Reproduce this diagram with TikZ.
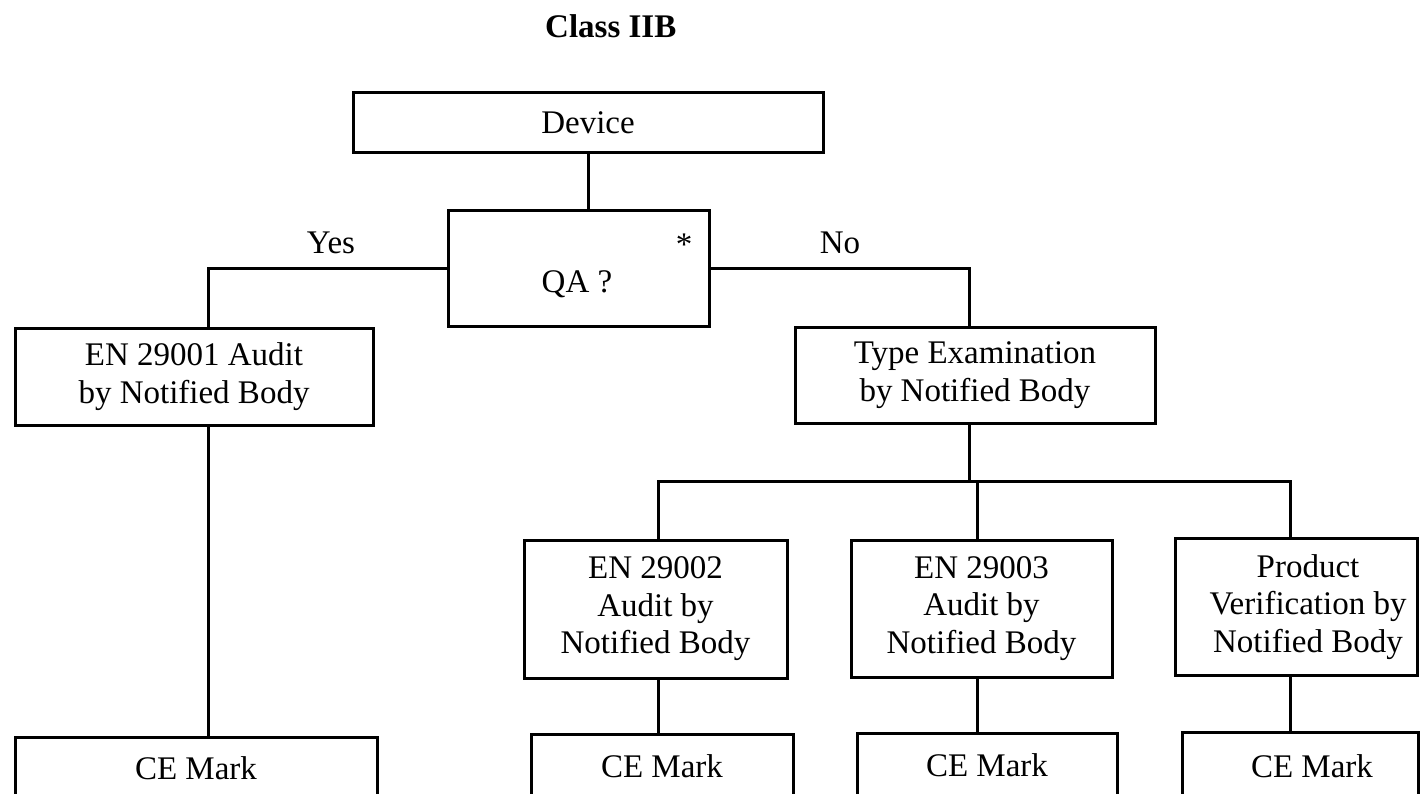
\documentclass[tikz,border=0pt]{standalone}
\usepackage{fontspec}
\setmainfont{Liberation Serif}
\begin{document}
\begin{tikzpicture}[x=1pt,y=-1pt,
  base font/.style={font=\fontsize{33}{37.5}\selectfont},
  box/.style={draw=black, line width=3pt, rectangle, inner sep=0pt, align=center, base font},
  lbl/.style={inner sep=0pt, anchor=base, base font},
  txt/.style={inner sep=0pt, anchor=center, align=center, base font},
  conn/.style={draw=black, line width=3pt, line join=miter}]
\fill[white] (0,0) rectangle (1420,794);
\useasboundingbox (0,0) rectangle (1420,794);

% title
\node[lbl, anchor=base west, font=\fontsize{33}{37.5}\selectfont\bfseries] (title) at (545,38) {Class IIB};

% top
\node[box, minimum width=470pt, minimum height=60pt] (dev) at (588,123) {Device};
\node[box, minimum width=261pt, minimum height=115pt] (qa) at (578.5,268.5) {};
\node[lbl] (qat) at (577,292) {QA ?};
\node[lbl] (star) at (684,255) {*};
\node[lbl] (yes) at (331,253) {Yes};
\node[lbl] (no) at (840,253) {No};

% second row
\node[box, minimum width=358pt, minimum height=97pt] (en1) at (194,376.5) {EN 29001 Audit\\by Notified Body};
\node[box, minimum width=360pt, minimum height=96pt] (te) at (975,375) {Type Examination\\by Notified Body};

% third row
\node[box, minimum width=263pt, minimum height=138pt] (e2) at (655.5,609) {EN 29002\\Audit by\\Notified Body};
\node[box, minimum width=261pt, minimum height=137pt] (e3) at (981.5,608.5) {EN 29003\\Audit by\\Notified Body};
\node[box, minimum width=242pt, minimum height=137pt] (pv) at (1296,606.5) {};
\node[txt] (pvt) at (1308,607) {Product\\Verification by\\Notified Body};

% CE marks
\node[box, minimum width=362pt, minimum height=62pt] (ce1) at (196,768) {CE Mark};
\node[box, minimum width=262pt, minimum height=64pt] (c2) at (662,766) {CE Mark};
\node[box, minimum width=260pt, minimum height=64pt] (c3) at (987,765) {CE Mark};
\node[box, minimum width=236pt, minimum height=64pt] (c4) at (1300,764) {};
\node[txt] (c4t) at (1312,766) {CE Mark};

% connectors
\coordinate (yc) at (208,0);
\coordinate (nc) at (969,0);
\coordinate (b1) at (658,481);
\coordinate (b2) at (977,481);
\coordinate (b3) at (1290,481);

\draw[conn] (dev.south) -- (dev.south |- qa.north);
\draw[conn] (qa.west) -- (qa.west -| yc) -- (yc |- en1.north);
\draw[conn] (yc |- en1.south) -- (yc |- ce1.north);
\draw[conn] (qa.east) -- (qa.east -| nc) -- (nc |- te.north);
\draw[conn] (nc |- te.south) -- (nc |- b2);
\draw[conn] (b1 |- e2.north) -- (b1) -- (b3) -- (b3 |- pv.north);
\draw[conn] (b2) -- (b2 |- e3.north);
\draw[conn] (b1 |- e2.south) -- (b1 |- c2.north);
\draw[conn] (b2 |- e3.south) -- (b2 |- c3.north);
\draw[conn] (b3 |- pv.south) -- (b3 |- c4.north);
\end{tikzpicture}
\end{document}
